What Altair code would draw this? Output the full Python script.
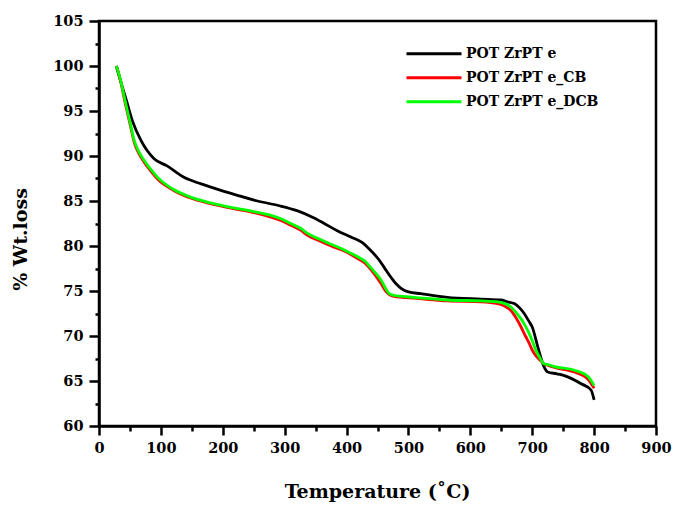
import altair as alt
import pandas as pd

# Thermogravimetric curves: temperature (°C) vs remaining weight (%)
temp_pot = [28, 35, 45, 54, 68, 89, 110, 138, 165, 192, 225, 256, 290, 321, 345,
            364, 385, 407, 425, 439, 452, 461, 472, 480, 488, 500, 520, 563, 617,
            649, 660, 671, 680, 687, 695, 700, 709, 719, 725, 740, 752, 779, 795, 800]
wt_pot = [100.0, 98.3, 96.0, 93.9, 91.7, 89.7, 88.9, 87.6, 86.9, 86.3, 85.6, 85.0,
          84.5, 83.9, 83.2, 82.5, 81.7, 81.0, 80.4, 79.5, 78.5, 77.6, 76.5, 75.8,
          75.3, 74.9, 74.7, 74.3, 74.1, 74.0, 73.8, 73.6, 73.1, 72.5, 71.6, 71.0,
          68.8, 66.6, 66.0, 65.8, 65.6, 64.7, 64.0, 62.9]

temp_cb = [28, 35, 41, 50, 57, 65, 73, 85, 95, 120, 149, 180, 213, 245, 278, 295,
           310, 325, 337, 355, 375, 398, 418, 430, 439, 448, 456, 463, 469, 477,
           490, 509, 563, 617, 644, 656, 666, 674, 682, 689, 695, 701, 706, 713,
           719, 727, 736, 768, 790, 800]
wt_cb = [100.0, 98.3, 96.3, 93.6, 91.5, 90.2, 89.3, 88.2, 87.4, 86.2, 85.3, 84.7,
         84.2, 83.8, 83.2, 82.8, 82.3, 81.8, 81.2, 80.6, 80.0, 79.4, 78.6, 78.1,
         77.4, 76.6, 75.8, 75.0, 74.6, 74.4, 74.3, 74.2, 73.9, 73.8, 73.6, 73.3,
         72.8, 72.0, 71.0, 70.0, 69.2, 68.3, 67.8, 67.3, 66.9, 66.7, 66.5, 66.0,
         65.2, 64.2]

temp_dcb = [28, 35, 41, 50, 57, 65, 73, 85, 95, 120, 149, 180, 213, 245, 278, 295,
            310, 325, 337, 355, 375, 398, 418, 430, 439, 448, 456, 463, 469, 477,
            490, 509, 563, 617, 644, 656, 666, 674, 682, 689, 695, 701, 706, 713,
            719, 727, 736, 768, 790, 800]
wt_dcb = [100.0, 98.4, 96.5, 93.8, 91.7, 90.4, 89.5, 88.4, 87.6, 86.3, 85.4, 84.8,
          84.3, 83.9, 83.4, 83.0, 82.5, 82.0, 81.4, 80.8, 80.2, 79.5, 78.8, 78.3,
          77.6, 76.9, 76.2, 75.3, 74.7, 74.5, 74.4, 74.3, 74.0, 73.9, 73.8, 73.6,
          73.2, 72.6, 71.9, 71.1, 70.3, 69.3, 68.4, 67.5, 66.9, 66.8, 66.6, 66.2,
          65.5, 64.5]

series_names = ["POT ZrPT e", "POT ZrPT e_CB", "POT ZrPT e_DCB"]
series_colors = ["#000000", "#ff0000", "#00ff00"]

x_ticks = list(range(0, 901, 50))
y_ticks = [60 + 2.5 * i for i in range(19)]

frames = []
for name, t, w in zip(series_names, [temp_pot, temp_cb, temp_dcb],
                      [wt_pot, wt_cb, wt_dcb]):
    frames.append(pd.DataFrame({"temp": t, "wt": w, "sample": name}))
df = pd.concat(frames, ignore_index=True)

FONT = "DejaVu Serif"

x_enc = alt.X(
    "temp:Q",
    scale=alt.Scale(domain=[0, 900], nice=False, zero=False),
    axis=alt.Axis(
        title="Temperature (˚C)",
        values=x_ticks,
        labelExpr="datum.value % 100 === 0 ? datum.label : ''",
        tickSize={"condition": {"test": "datum.value % 100 === 0", "value": 9}, "value": 5},
        tickWidth=2.5,
        tickColor="black",
        domainColor="black",
        domainWidth=2.5,
        grid=False,
        labelFont=FONT,
        labelFontWeight="bold",
        labelFontSize=14.5,
        labelColor="black",
        labelPadding=6,
        labelFlush=False,
        titleFont=FONT,
        titleFontWeight="bold",
        titleFontSize=19,
        titleColor="black",
        titleBaseline="alphabetic",
        titleX=278,
        titleY=71,
        titleAnchor="middle",
    ),
)

y_enc = alt.Y(
    "wt:Q",
    scale=alt.Scale(domain=[60, 105], nice=False, zero=False),
    axis=alt.Axis(
        title="% Wt.loss",
        values=y_ticks,
        labelExpr="datum.value % 5 === 0 ? datum.label : ''",
        tickSize={"condition": {"test": "datum.value % 5 === 0", "value": 10}, "value": 4},
        tickWidth=2.5,
        tickColor="black",
        domainColor="black",
        domainWidth=2.5,
        grid=False,
        labelFont=FONT,
        labelFontWeight="bold",
        labelFontSize=14.5,
        labelColor="black",
        labelPadding=6,
        labelFlush=False,
        titleFont=FONT,
        titleFontWeight="bold",
        titleFontSize=19,
        titleColor="black",
        titleAngle=-90,
        titleAlign="center",
        titleBaseline="middle",
        titleX=-79,
        titleY=218,
    ),
)

color_enc = alt.Color(
    "sample:N",
    scale=alt.Scale(domain=series_names, range=series_colors),
    legend=alt.Legend(
        title=None,
        orient="none",
        legendX=306,
        legendY=21,
        symbolType="stroke",
        symbolSize=3025,
        symbolStrokeWidth=3,
        clipHeight=23.5,
        rowPadding=0,
        labelFont=FONT,
        labelFontWeight="bold",
        labelFontSize=14,
        labelColor="black",
        labelOffset=3,
        labelLimit=300,
        padding=0,
    ),
)

base = (
    alt.Chart(df)
    .mark_line(strokeWidth=2.8, interpolate="monotone")
    .encode(x=x_enc, y=y_enc, color=color_enc)
)

# black first, then red, then green drawn on top
layers = [base.transform_filter(alt.datum.sample == name) for name in series_names]

chart = (
    alt.layer(*layers)
    .properties(
        width=557,
        height=405,
        autosize=alt.AutoSizeParams(type="none"),
        padding={"left": 99, "top": 21, "right": 21, "bottom": 81},
        background="white",
    )
    .configure_view(stroke="black", strokeWidth=2.5)
)

chart.save("out.html", embed_options={"renderer": "svg", "actions": False})
